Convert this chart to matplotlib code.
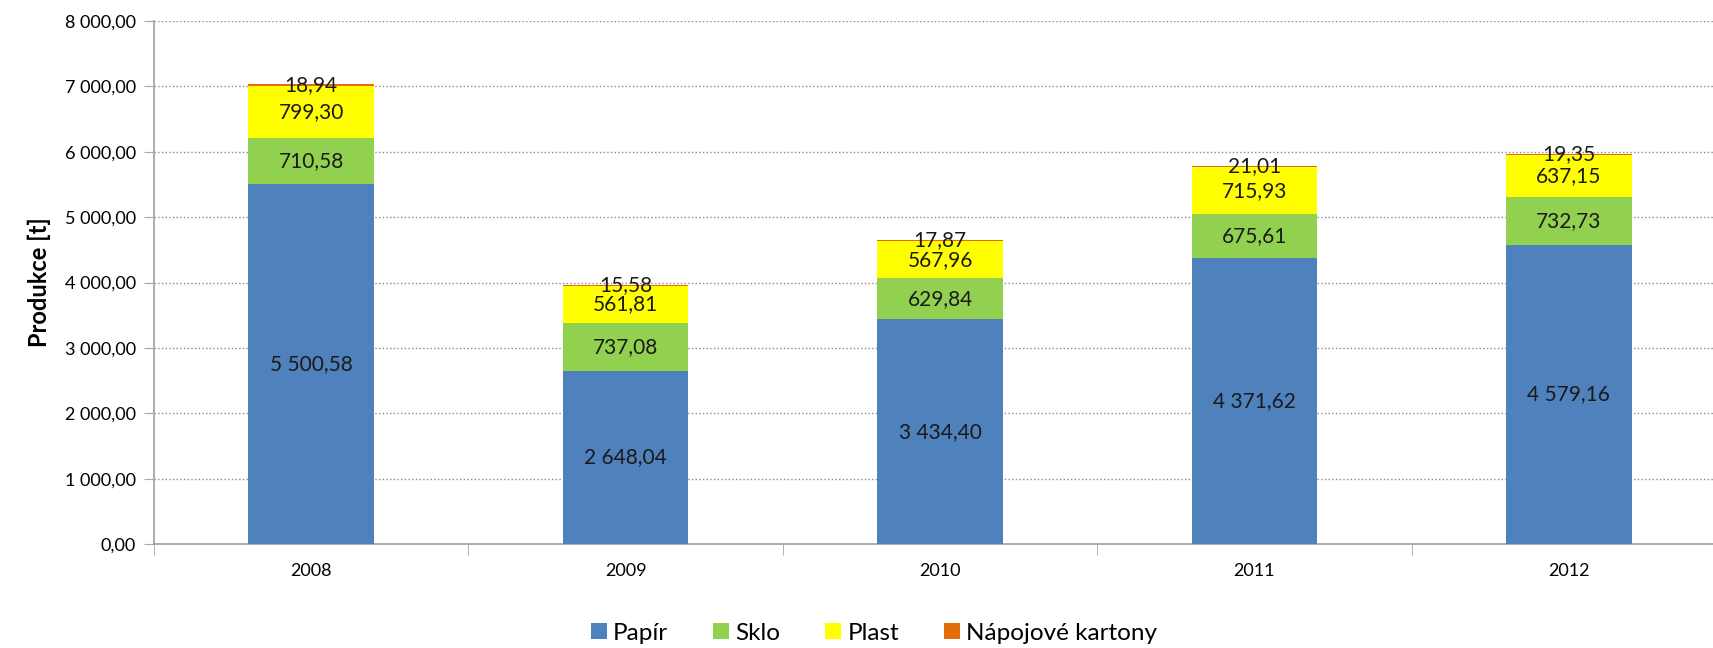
import matplotlib.pyplot as plt
import numpy as np

plt.rcParams['font.family'] = ['Lato', 'DejaVu Sans']

years = ['2008', '2009', '2010', '2011', '2012']
papir = [5500.58, 2648.04, 3434.40, 4371.62, 4579.16]
sklo = [710.58, 737.08, 629.84, 675.61, 732.73]
plast = [799.30, 561.81, 567.96, 715.93, 637.15]
kartony = [18.94, 15.58, 17.87, 21.01, 19.35]

series = [('Papír', papir, '#4F81BD'),
          ('Sklo', sklo, '#92D050'),
          ('Plast', plast, '#FFFF00'),
          ('Nápojové kartony', kartony, '#E46C0A')]


def cz(v):
    # czech number format: space as thousands separator, comma as decimal
    return f'{v:,.2f}'.replace(',', ' ').replace('.', ',')


fig = plt.figure(figsize=(17.13, 6.48), dpi=100)
ax = fig.add_axes([154 / 1713, 104 / 648, 1572 / 1713, 523 / 648])

x = np.arange(len(years))
bottom = np.zeros(len(years))
for name, vals, col in series:
    vals = np.array(vals)
    ax.bar(x, vals, 0.4, bottom=bottom, color=col, label=name, zorder=3)
    for xi, b, v in zip(x, bottom, vals):
        ax.text(xi, b + v / 2, cz(v), ha='center', va='center',
                fontsize=15, color='#1a1a1a', zorder=4)
    bottom += vals

ax.set_xlim(-0.5, len(years) - 0.5)
ax.set_ylim(0, 8000)
ax.set_yticks(np.arange(0, 8001, 1000))
ax.set_yticklabels([cz(v) for v in np.arange(0, 8001, 1000)])
ax.set_xticks(x)
ax.set_xticklabels(years)
ax.set_xticks(np.arange(-0.5, len(years), 1), minor=True)
ax.tick_params(axis='x', which='major', length=0, pad=14, labelsize=13)
ax.tick_params(axis='x', which='minor', length=8, color='#A6A6A6')
ax.tick_params(axis='y', length=7, color='#A6A6A6', labelsize=13, pad=6)

ax.grid(axis='y', linestyle=':', color='#8C8C8C', linewidth=1, zorder=0)
for s in ['top', 'right']:
    ax.spines[s].set_visible(False)
for s in ['left', 'bottom']:
    ax.spines[s].set_color('#A6A6A6')
    ax.spines[s].set_linewidth(1.3)

ax.set_ylabel('Produkce [t]', fontsize=17, fontweight='bold', labelpad=10)

fig.legend(loc='center', bbox_to_anchor=(874 / 1713, 15 / 648), ncol=4,
           frameon=False, fontsize=17.5, handlelength=0.66, handleheight=0.66,
           columnspacing=1.85, handletextpad=0.25)

fig.savefig('out.png', dpi=100)
